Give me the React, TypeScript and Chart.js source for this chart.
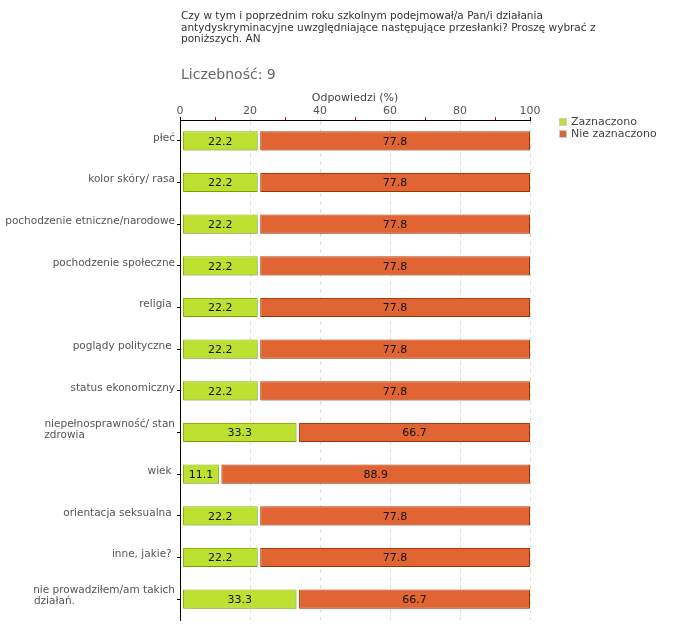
import React, { useEffect, useRef } from "react";
import { Chart, registerables } from "chart.js";

Chart.register(...registerables);

const categories: string[][] = [
  ["płeć"],
  ["kolor skóry/ rasa"],
  ["pochodzenie etniczne/narodowe"],
  ["pochodzenie społeczne"],
  ["religia "],
  ["poglądy polityczne "],
  ["status ekonomiczny"],
  ["niepełnosprawność/ stan", "zdrowia"],
  ["wiek "],
  ["orientacja seksualna "],
  ["inne, jakie? "],
  ["nie prowadziłem/am takich", "działań."],
];
const zaznaczono = [22.2, 22.2, 22.2, 22.2, 22.2, 22.2, 22.2, 33.3, 11.1, 22.2, 22.2, 33.3];
const nieZaznaczono = [77.8, 77.8, 77.8, 77.8, 77.8, 77.8, 77.8, 66.7, 88.9, 77.8, 77.8, 66.7];
const seriesNames = ["Zaznaczono", "Nie zaznaczono"];
const xTicks = [0, 20, 40, 60, 80, 100];
const titleLines = [
  "Czy w tym i poprzednim roku szkolnym podejmował/a Pan/i działania",
  "antydyskryminacyjne uwzględniające następujące przesłanki? Proszę wybrać z",
  "poniższych. AN",
];
const countLabel = "Liczebność: 9";
const axisTitle = "Odpowiedzi (%)";

const FONT = "'DejaVu Sans', Verdana, sans-serif";
const GREEN = "#bde031";
const GREEN_BORDER = "#8db600";
const ORANGE = "#e06532";
const ORANGE_BORDER = "#b23a0a";

function padLines(lines: string[], font: string): string[] {
  if (lines.length < 2) return lines;
  const c = document.createElement("canvas").getContext("2d")!;
  c.font = font;
  const maxW = Math.max(...lines.map((l) => c.measureText(l).width));
  return lines.map((l) => {
    let s = l;
    while (c.measureText(s + " ").width <= maxW + 1) s += " ";
    return s;
  });
}

const barInset = {
  id: "barInset",
  afterDatasetsUpdate(chart: any) {
    chart.data.datasets.forEach((_: any, i: number) => {
      const meta = chart.getDatasetMeta(i);
      meta.data.forEach((el: any) => {
        el.base = el.base + 2.5;
      });
    });
  },
  beforeDatasetsDraw(chart: any) {
    const ctx = chart.ctx;
    ctx.save();
    ctx.shadowColor = "rgba(0,0,0,0.13)";
    ctx.shadowOffsetX = 1;
    ctx.shadowOffsetY = 2;
    ctx.shadowBlur = 0;
  },
  afterDatasetsDraw(chart: any) {
    const ctx = chart.ctx;
    ctx.restore();
    ctx.save();
    ctx.font = `11px ${FONT}`;
    ctx.fillStyle = "#111";
    ctx.textAlign = "center";
    ctx.textBaseline = "middle";
    chart.data.datasets.forEach((ds: any, i: number) => {
      const meta = chart.getDatasetMeta(i);
      meta.data.forEach((el: any, j: number) => {
        const cx = (el.x + el.base) / 2;
        ctx.fillText(Number(ds.data[j]).toFixed(1), cx, el.y + 1);
      });
    });
    ctx.restore();
  },
};

export default function App() {
  const ref = useRef<HTMLCanvasElement>(null);
  useEffect(() => {
    if (!ref.current) return;
    const labelFont = `10.5px ${FONT}`;
    const chart = new Chart(ref.current, {
      type: "bar",
      data: {
        labels: categories.map((l) => padLines(l, labelFont)),
        datasets: [
          {
            label: seriesNames[0],
            data: zaznaczono,
            backgroundColor: GREEN,
            borderColor: GREEN_BORDER,
            borderWidth: 1,
            borderSkipped: false,
            barPercentage: 0.46,
            categoryPercentage: 1,
          },
          {
            label: seriesNames[1],
            data: nieZaznaczono,
            backgroundColor: ORANGE,
            borderColor: ORANGE_BORDER,
            borderWidth: 1,
            borderSkipped: false,
            barPercentage: 0.46,
            categoryPercentage: 1,
          },
        ],
      },
      options: {
        indexAxis: "y",
        animation: false,
        responsive: false,
        maintainAspectRatio: false,
        layout: { padding: { top: 80, right: 150, bottom: 20, left: 0 } },
        plugins: {
          legend: { display: false },
          tooltip: { enabled: false },
          title: { display: false },
        },
        scales: {
          x: {
            position: "top",
            stacked: true,
            min: 0,
            max: 100,
            afterFit: (s: any) => {
              s.height = 40;
            },
            afterBuildTicks: (s: any) => {
              const t = [];
              for (let v = 0; v <= 100; v += 10) t.push({ value: v });
              s.ticks = t;
            },
            ticks: {
              autoSkip: false,
              maxRotation: 0,
              padding: -1,
              color: "#555",
              font: { family: FONT, size: 11 },
              callback: (v: any) => (xTicks.includes(Number(v)) ? String(v) : ""),
            },
            grid: {
              drawOnChartArea: true,
              tickLength: 3,
              color: (c: any) => {
                const v = c.tick ? c.tick.value : 0;
                return v % 20 === 0 && v > 0 ? "#dddddd" : "rgba(0,0,0,0)";
              },
              tickColor: (c: any) => {
                const v = c.tick ? c.tick.value : 0;
                if (v === 0 || v === 100) return "#000";
                return v % 20 === 0 ? "#dddddd" : "#e00000";
              },
            } as any,
            border: { display: true, color: "#000", width: 1, dash: [4, 4] } as any,
            title: {
              display: true,
              text: axisTitle,
              color: "#444",
              font: { family: FONT, size: 11 },
              padding: { top: 12, bottom: 0 },
            },
          },
          y: {
            stacked: true,
            afterFit: (s: any) => {
              s.width = 180;
            },
            ticks: {
              autoSkip: false,
              color: "#555",
              padding: 2,
              labelOffset: -3,
              font: { family: FONT, size: 10.5, lineHeight: 1.05 },
            },
            grid: {
              offset: false,
              drawOnChartArea: false,
              tickLength: 3,
              tickColor: "#000",
            },
            border: { display: true, color: "#000", width: 1 },
          },
        },
      },
      plugins: [barInset],
    } as any);
    return () => chart.destroy();
  }, []);

  return (
    <div style={{ position: "absolute", left: 0, top: 0, width: 680, height: 640, background: "#fff" }}>
      <canvas ref={ref} width={680} height={640} style={{ position: "absolute", left: 0, top: 0 }} />
      <div
        style={{
          position: "absolute",
          left: 181,
          top: 10,
          fontFamily: FONT,
          fontSize: 10.5,
          lineHeight: "11.5px",
          color: "#333",
          whiteSpace: "pre",
        }}
      >
        {titleLines.map((l, i) => (
          <div key={i}>{l}</div>
        ))}
      </div>
      <div
        style={{
          position: "absolute",
          left: 181,
          top: 66,
          fontFamily: FONT,
          fontSize: 14,
          color: "#666",
          whiteSpace: "pre",
        }}
      >
        {countLabel}
      </div>
      <div
        style={{
          position: "absolute",
          left: 559,
          top: 116,
          fontFamily: FONT,
          fontSize: 11,
          lineHeight: "12px",
          color: "#444",
        }}
      >
        {seriesNames.map((n, i) => (
          <div key={n} style={{ display: "flex", alignItems: "center" }}>
            <span
              style={{
                display: "inline-block",
                width: 6,
                height: 6,
                marginRight: 4,
                background: i === 0 ? GREEN : ORANGE,
                border: "1px solid #ccc",
              }}
            />
            {n}
          </div>
        ))}
      </div>
    </div>
  );
}
